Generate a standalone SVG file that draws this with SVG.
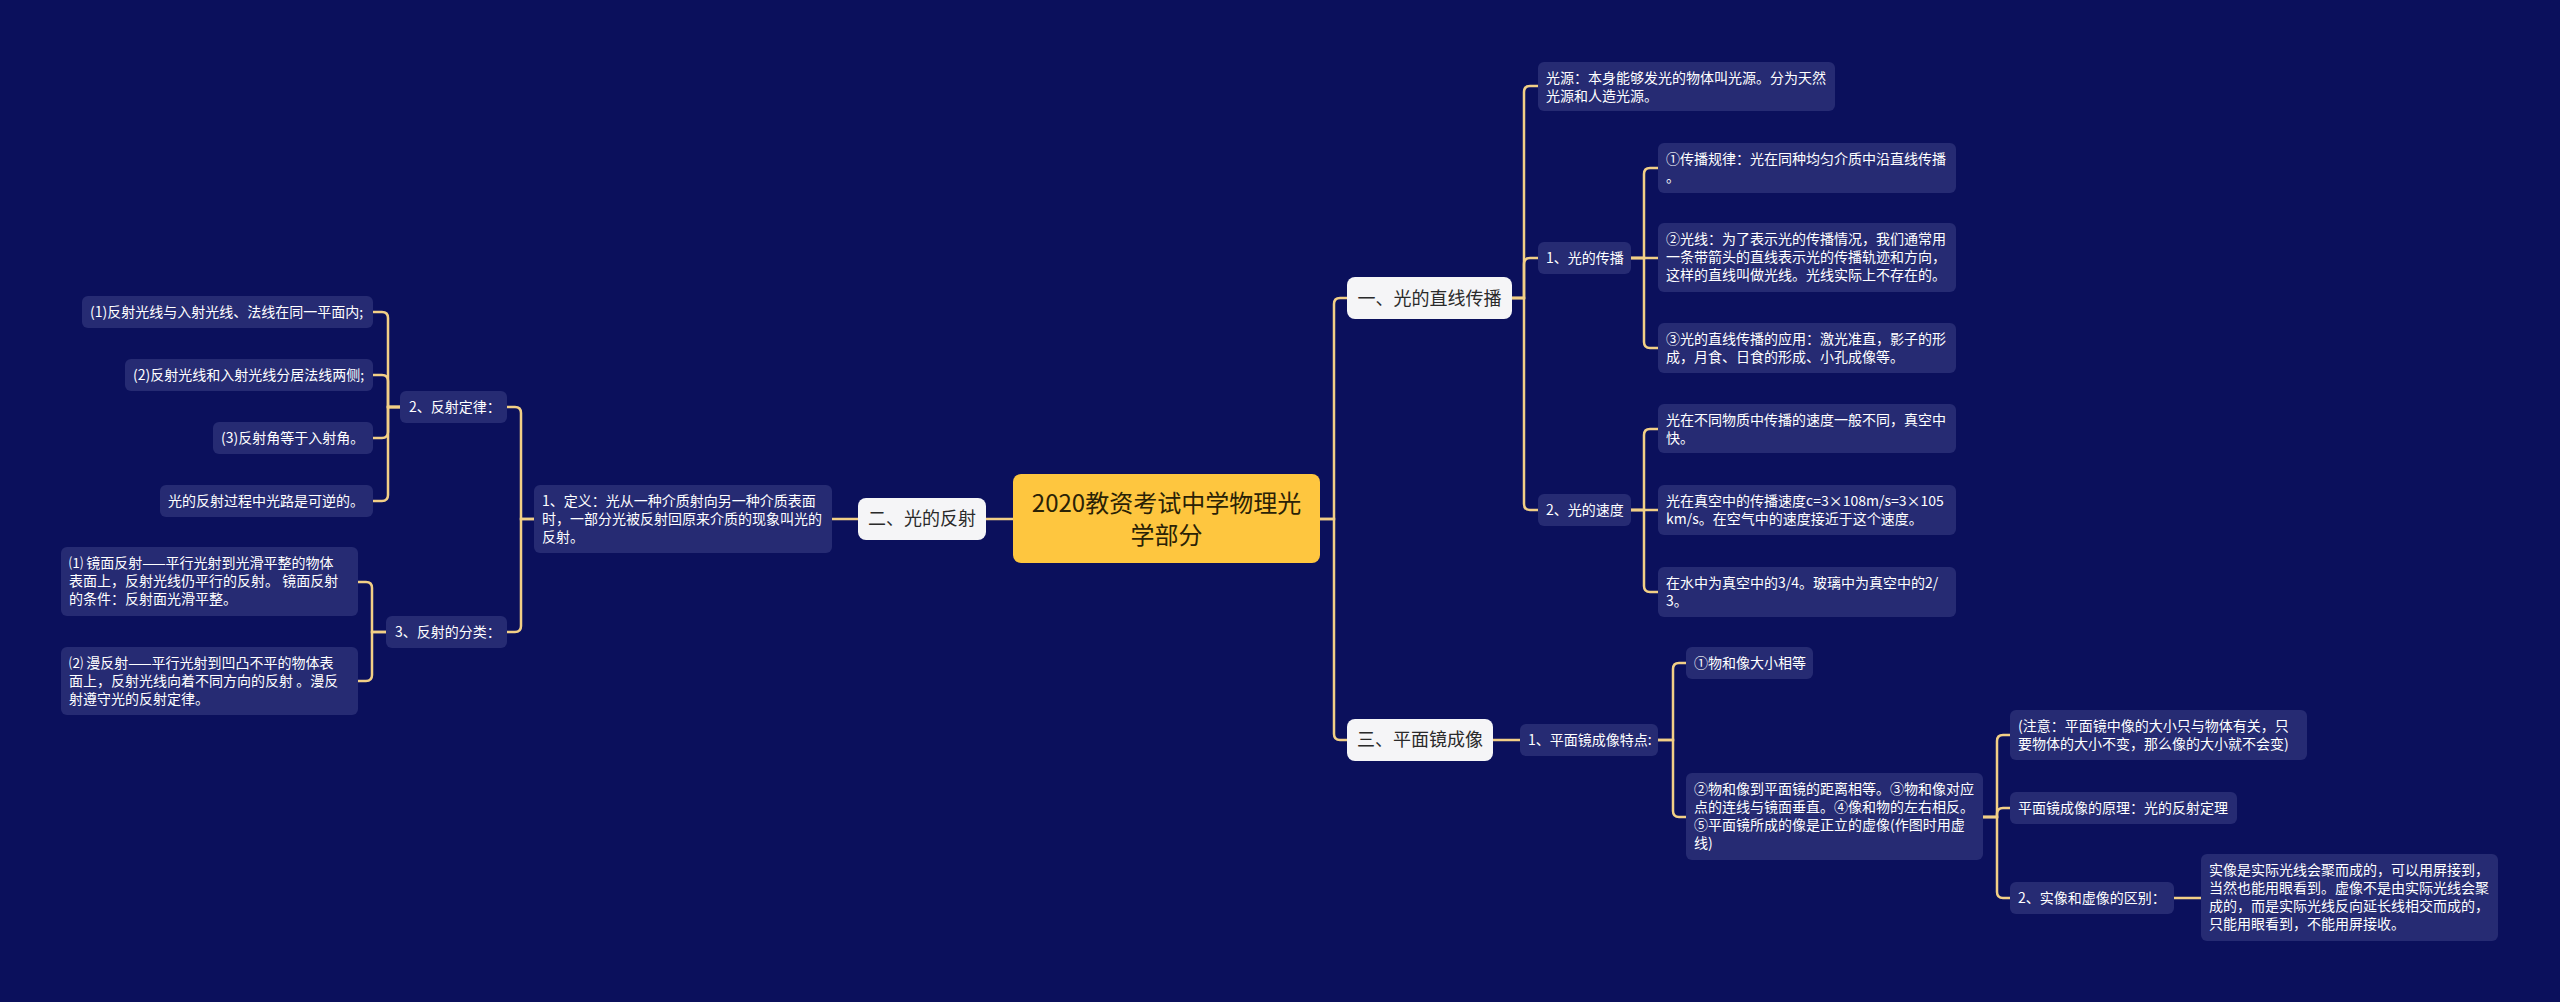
<svg xmlns="http://www.w3.org/2000/svg" width="2560" height="1002" viewBox="0 0 2560 1002">
<defs>
<style>
.bg{fill:#0B105C}
.c{fill:#262B73}
.w{fill:#F5F5F7}
.root{fill:#FEC63F}
.t{font-family:"Noto Sans CJK SC","Noto Sans",sans-serif;font-size:14px;fill:#FFFFFF}
.t1{font-family:"Noto Sans CJK SC","Noto Sans",sans-serif;font-size:18px;fill:#2A2A2A;text-anchor:middle}
.t0{font-family:"Noto Sans CJK SC","Noto Sans",sans-serif;font-size:24px;fill:#2A2206;text-anchor:middle}
.ln{fill:none;stroke:#F2CF86;stroke-width:2.5;stroke-linecap:round}
</style>
</defs>
<rect class="bg" x="0" y="0" width="2560" height="1002"/>

<g id="connectors" class="ln">
<path d="M1013 519 H986"/>
<path d="M858 519 H832"/>
<path d="M534 519 H521 V413 Q521 407 515 407 H507"/>
<path d="M534 519 H521 V626 Q521 632 515 632 H507"/>
<path d="M400 407 H388 V318 Q388 312 382 312 H373"/>
<path d="M400 407 H388 V381 Q388 375 382 375 H373"/>
<path d="M400 407 H388 V432 Q388 438 382 438 H373"/>
<path d="M400 407 H388 V495 Q388 501 382 501 H373"/>
<path d="M386 632 H372 V588 Q372 582 366 582 H358"/>
<path d="M386 632 H372 V675 Q372 681 366 681 H358"/>
<path d="M1320 519 H1334 V304 Q1334 298 1340 298 H1347"/>
<path d="M1320 519 H1334 V734 Q1334 740 1340 740 H1347"/>
<path d="M1512 298 H1524 V92 Q1524 86 1530 86 H1538"/>
<path d="M1512 298 H1524 V264 Q1524 258 1530 258 H1538"/>
<path d="M1512 298 H1524 V504 Q1524 510 1530 510 H1538"/>
<path d="M1631 258 H1644 V174 Q1644 168 1650 168 H1658"/>
<path d="M1631 258 H1658"/>
<path d="M1631 258 H1644 V342 Q1644 348 1650 348 H1658"/>
<path d="M1631 510 H1644 V435 Q1644 429 1650 429 H1658"/>
<path d="M1631 510 H1658"/>
<path d="M1631 510 H1644 V586 Q1644 592 1650 592 H1658"/>
<path d="M1493 740 H1520"/>
<path d="M1658 740 H1673 V669 Q1673 663 1679 663 H1686"/>
<path d="M1658 740 H1673 V811 Q1673 817 1679 817 H1686"/>
<path d="M1983 817 H1997 V741 Q1997 735 2003 735 H2010"/>
<path d="M1983 817 H1997 V814 Q1997 808 2003 808 H2010"/>
<path d="M1983 817 H1997 V892 Q1997 898 2003 898 H2010"/>
<path d="M2174 898 H2201"/>
</g>

<g id="root">
<rect class="root" x="1013" y="474" width="307" height="89" rx="8"/>
<text class="t0" x="1166.5" y="512">2020教资考试中学物理光</text>
<text class="t0" x="1166.5" y="544">学部分</text>
</g>

<g id="n2">
<rect class="w" x="858" y="498" width="128" height="42" rx="8"/>
<text class="t1" x="922" y="525">二、光的反射</text>
</g>
<g id="n2-1">
<rect class="c" x="534" y="485" width="298" height="68" rx="6"/>
<text class="t" x="542" y="506">1、定义：光从一种介质射向另一种介质表面</text>
<text class="t" x="542" y="524">时，一部分光被反射回原来介质的现象叫光的</text>
<text class="t" x="542" y="542">反射。</text>
</g>
<g id="n2-2">
<rect class="c" x="400" y="391" width="107" height="32" rx="6"/>
<text class="t" x="409" y="412">2、反射定律：</text>
</g>
<g id="n2-2-1">
<rect class="c" x="82" y="296" width="291" height="32" rx="6"/>
<text class="t" x="90" y="317">(1)反射光线与入射光线、法线在同一平面内;</text>
</g>
<g id="n2-2-2">
<rect class="c" x="125" y="359" width="248" height="32" rx="6"/>
<text class="t" x="133" y="380">(2)反射光线和入射光线分居法线两侧;</text>
</g>
<g id="n2-2-3">
<rect class="c" x="213" y="422" width="160" height="32" rx="6"/>
<text class="t" x="221" y="443">(3)反射角等于入射角。</text>
</g>
<g id="n2-2-4">
<rect class="c" x="160" y="485" width="213" height="32" rx="6"/>
<text class="t" x="168" y="506">光的反射过程中光路是可逆的。</text>
</g>
<g id="n2-3">
<rect class="c" x="386" y="616" width="121" height="32" rx="6"/>
<text class="t" x="395" y="637">3、反射的分类：</text>
</g>
<g id="n2-3-1">
<rect class="c" x="61" y="547" width="297" height="69" rx="6"/>
<text class="t" x="69" y="568">⑴ 镜面反射——平行光射到光滑平整的物体</text>
<text class="t" x="69" y="586">表面上，反射光线仍平行的反射。 镜面反射</text>
<text class="t" x="69" y="604">的条件：反射面光滑平整。</text>
</g>
<g id="n2-3-2">
<rect class="c" x="61" y="647" width="297" height="68" rx="6"/>
<text class="t" x="69" y="668">⑵ 漫反射——平行光射到凹凸不平的物体表</text>
<text class="t" x="69" y="686">面上，反射光线向着不同方向的反射 。漫反</text>
<text class="t" x="69" y="704">射遵守光的反射定律。</text>
</g>

<g id="n1">
<rect class="w" x="1347" y="277" width="165" height="42" rx="8"/>
<text class="t1" x="1429.5" y="304.5">一、光的直线传播</text>
</g>
<g id="n1-0">
<rect class="c" x="1538" y="62" width="297" height="49" rx="6"/>
<text class="t" x="1546" y="83">光源：本身能够发光的物体叫光源。分为天然</text>
<text class="t" x="1546" y="101">光源和人造光源。</text>
</g>
<g id="n1-1">
<rect class="c" x="1538" y="242" width="93" height="32" rx="6"/>
<text class="t" x="1546" y="263">1、光的传播</text>
</g>
<g id="n1-1-1">
<rect class="c" x="1658" y="143" width="298" height="50" rx="6"/>
<text class="t" x="1666" y="164">①传播规律：光在同种均匀介质中沿直线传播</text>
<text class="t" x="1666" y="182">。</text>
</g>
<g id="n1-1-2">
<rect class="c" x="1658" y="223" width="298" height="69" rx="6"/>
<text class="t" x="1666" y="244">②光线：为了表示光的传播情况，我们通常用</text>
<text class="t" x="1666" y="262">一条带箭头的直线表示光的传播轨迹和方向，</text>
<text class="t" x="1666" y="280">这样的直线叫做光线。光线实际上不存在的。</text>
</g>
<g id="n1-1-3">
<rect class="c" x="1658" y="323" width="298" height="50" rx="6"/>
<text class="t" x="1666" y="344">③光的直线传播的应用：激光准直，影子的形</text>
<text class="t" x="1666" y="362">成，月食、日食的形成、小孔成像等。</text>
</g>
<g id="n1-2">
<rect class="c" x="1538" y="494" width="93" height="32" rx="6"/>
<text class="t" x="1546" y="515">2、光的速度</text>
</g>
<g id="n1-2-1">
<rect class="c" x="1658" y="404" width="298" height="49" rx="6"/>
<text class="t" x="1666" y="425">光在不同物质中传播的速度一般不同，真空中</text>
<text class="t" x="1666" y="443">快。</text>
</g>
<g id="n1-2-2">
<rect class="c" x="1658" y="485" width="298" height="50" rx="6"/>
<text class="t" x="1666" y="506">光在真空中的传播速度c=3×108m/s=3×105</text>
<text class="t" x="1666" y="524">km/s。在空气中的速度接近于这个速度。</text>
</g>
<g id="n1-2-3">
<rect class="c" x="1658" y="567" width="298" height="50" rx="6"/>
<text class="t" x="1666" y="588">在水中为真空中的3/4。玻璃中为真空中的2/</text>
<text class="t" x="1666" y="606">3。</text>
</g>

<g id="n3">
<rect class="w" x="1347" y="719" width="146" height="42" rx="8"/>
<text class="t1" x="1420" y="746">三、平面镜成像</text>
</g>
<g id="n3-1">
<rect class="c" x="1520" y="724" width="138" height="32" rx="6"/>
<text class="t" x="1528" y="745">1、平面镜成像特点:</text>
</g>
<g id="n3-1-1">
<rect class="c" x="1686" y="647" width="127" height="32" rx="6"/>
<text class="t" x="1694" y="668">①物和像大小相等</text>
</g>
<g id="n3-1-2">
<rect class="c" x="1686" y="773" width="297" height="87" rx="6"/>
<text class="t" x="1694" y="794">②物和像到平面镜的距离相等。③物和像对应</text>
<text class="t" x="1694" y="812">点的连线与镜面垂直。④像和物的左右相反。</text>
<text class="t" x="1694" y="830">⑤平面镜所成的像是正立的虚像(作图时用虚</text>
<text class="t" x="1694" y="848">线)</text>
</g>
<g id="n3-1-2-1">
<rect class="c" x="2010" y="710" width="297" height="50" rx="6"/>
<text class="t" x="2018" y="731">(注意：平面镜中像的大小只与物体有关，只</text>
<text class="t" x="2018" y="749">要物体的大小不变，那么像的大小就不会变)</text>
</g>
<g id="n3-1-2-2">
<rect class="c" x="2010" y="792" width="227" height="32" rx="6"/>
<text class="t" x="2018" y="813">平面镜成像的原理：光的反射定理</text>
</g>
<g id="n3-1-2-3">
<rect class="c" x="2010" y="882" width="164" height="32" rx="6"/>
<text class="t" x="2018" y="903">2、实像和虚像的区别：</text>
</g>
<g id="n3-1-2-3-1">
<rect class="c" x="2201" y="854" width="297" height="87" rx="6"/>
<text class="t" x="2209" y="875">实像是实际光线会聚而成的，可以用屏接到，</text>
<text class="t" x="2209" y="893">当然也能用眼看到。虚像不是由实际光线会聚</text>
<text class="t" x="2209" y="911">成的，而是实际光线反向延长线相交而成的，</text>
<text class="t" x="2209" y="929">只能用眼看到，不能用屏接收。</text>
</g>
</svg>
